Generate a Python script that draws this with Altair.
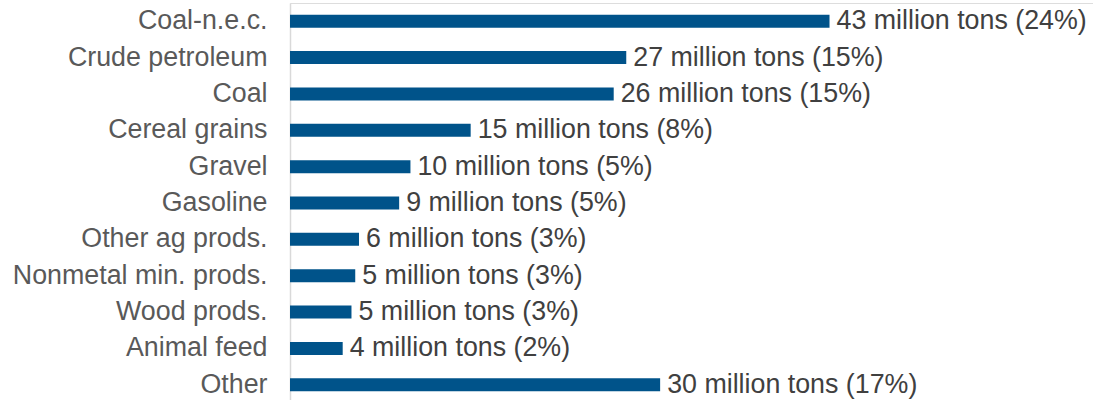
import altair as alt
import pandas as pd

categories = ["Coal-n.e.c.", "Crude petroleum", "Coal", "Cereal grains", "Gravel",
              "Gasoline", "Other ag prods.", "Nonmetal min. prods.", "Wood prods.",
              "Animal feed", "Other"]
values = [43.0, 26.8, 25.8, 14.4, 9.6, 8.7, 5.5, 5.2, 4.9, 4.2, 29.5]
labels = ["43 million tons (24%)", "27 million tons (15%)", "26 million tons (15%)",
          "15 million tons (8%)", "10 million tons (5%)", "9 million tons (5%)",
          "6 million tons (3%)", "5 million tons (3%)", "5 million tons (3%)",
          "4 million tons (2%)", "30 million tons (17%)"]

df = pd.DataFrame({"cat": categories, "val": values, "label": labels})

FONT = "Liberation Sans"
FS = 26.8

y = alt.Y("cat:N", sort=categories, title=None,
          scale=alt.Scale(paddingInner=0, paddingOuter=0),
          axis=alt.Axis(labelFont=FONT, labelFontSize=FS, labelColor="#595959",
                        ticks=False, labelPadding=23, domainColor="#D9D9D9",
                        domainWidth=1.5, labelLimit=400))
x = alt.X("val:Q", title=None, scale=alt.Scale(domain=[0, 64], nice=False),
          axis=None)

bars = alt.Chart(df).mark_bar(color="#00538A", size=13).encode(x=x, y=y)
text = alt.Chart(df).mark_text(align="left", baseline="middle", dx=7, font=FONT,
                               fontSize=FS, color="#404040").encode(
    x=x, y=alt.Y("cat:N", sort=categories), text="label:N")

chart = (bars + text).properties(
    width=803, height=400,
    autosize=alt.AutoSizeParams(type="none"),
    padding={"left": 290, "top": 3, "right": 0, "bottom": 0},
).configure_view(stroke=None).configure(background="white")

chart.save("out.html", embed_options={"renderer": "svg", "actions": False})
